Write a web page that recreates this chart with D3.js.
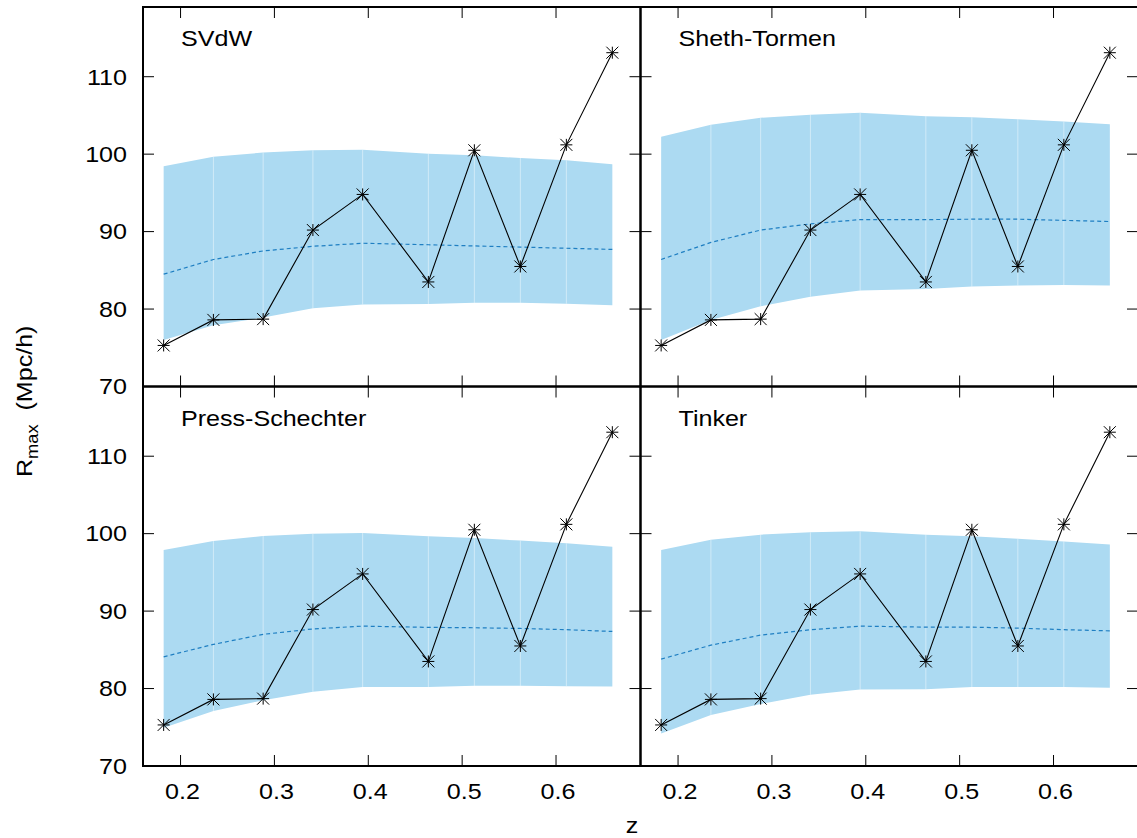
<!DOCTYPE html>
<html>
<head>
<meta charset="utf-8">
<script src="https://cdn.jsdelivr.net/npm/d3@7"></script>
<style>
  body { margin: 0; background: #fff; }
  svg { display: block; font-family: "Liberation Sans", Arial, Helvetica, sans-serif; }
</style>
</head>
<body>
<div id="chart"></div>
<script>
const width = 1137;
const height = 838;

// redshift bins and measured R_max (same in every panel)
const zBins = [0.182, 0.235, 0.288, 0.341, 0.394, 0.464, 0.513, 0.562, 0.611, 0.660];
const rObs = [75.3, 78.6, 78.7, 90.2, 94.8, 83.5, 100.5, 85.5, 101.2, 113.1];

// model predictions: lower, median, upper
const models = ['SVdW', 'Sheth-Tormen', 'Press-Schechter', 'Tinker'];
const svdwLow  = [76.0, 77.9, 78.9, 80.1, 80.6, 80.65, 80.8, 80.8, 80.7, 80.5];
const svdwMid  = [84.5, 86.4, 87.5, 88.1, 88.5, 88.3, 88.15, 88.0, 87.85, 87.7];
const svdwHigh = [98.45, 99.66, 100.2, 100.5, 100.57, 100.05, 99.87, 99.5, 99.2, 98.7];
const stLow  = [76.0, 78.6, 80.35, 81.6, 82.4, 82.6, 82.9, 83.05, 83.1, 83.05];
const stMid  = [86.4, 88.6, 90.2, 91.0, 91.55, 91.55, 91.6, 91.6, 91.45, 91.3];
const stHigh = [102.25, 103.8, 104.7, 105.1, 105.35, 104.9, 104.75, 104.5, 104.2, 103.85];
const psLow  = [74.95, 77.1, 78.5, 79.6, 80.2, 80.2, 80.35, 80.35, 80.3, 80.25];
const psMid  = [84.1, 85.7, 87.0, 87.7, 88.06, 87.9, 87.85, 87.76, 87.6, 87.37];
const psHigh = [97.9, 99.06, 99.7, 100.0, 100.1, 99.65, 99.44, 99.1, 98.75, 98.3];
const tkLow  = [74.2, 76.6, 78.0, 79.2, 79.87, 79.9, 80.2, 80.2, 80.2, 80.1];
const tkMid  = [83.8, 85.6, 86.9, 87.6, 88.06, 87.93, 87.93, 87.8, 87.6, 87.45];
const tkHigh = [97.9, 99.2, 99.87, 100.17, 100.3, 99.87, 99.65, 99.35, 99.0, 98.6];

const bands = [
  [svdwLow, svdwMid, svdwHigh],
  [stLow, stMid, stHigh],
  [psLow, psMid, psHigh],
  [tkLow, tkMid, tkHigh],
];

const xTicks = [0.2, 0.3, 0.4, 0.5, 0.6];
const yTicks = [70, 80, 90, 100, 110];

const marginLeft = 143, marginTop = 7;
const pw = 497.5, ph = 379.5;
const stretch = 1.14; // glyphs in the original are wider than Arial

const svg = d3.select('#chart')
  .append('svg')
  .attr('width', width)
  .attr('height', height);

const xScale = d3.scaleLinear().domain([0.16, 0.69]).range([0, pw]);
const yScale = d3.scaleLinear().domain([70, 119]).range([ph, 0]);

function label(g, x, y, text, anchor, size) {
  return g.append('text')
    .attr('transform', `translate(${x},${y}) scale(${stretch},1)`)
    .attr('text-anchor', anchor)
    .attr('font-size', size)
    .attr('fill', '#000')
    .text(text);
}

models.forEach((name, i) => {
  const col = i % 2, row = Math.floor(i / 2);
  const g = svg.append('g')
    .attr('transform', `translate(${marginLeft + col * pw}, ${marginTop + row * ph})`);
  const [low, mid, high] = bands[i];
  const pts = zBins.map((z, k) => ({ z, r: rObs[k], lo: low[k], md: mid[k], hi: high[k] }));

  // band
  const area = d3.area()
    .x(d => xScale(d.z))
    .y0(d => yScale(d.lo))
    .y1(d => yScale(d.hi));
  g.append('path')
    .datum(pts)
    .attr('d', area)
    .attr('fill', '#acdaf2');

  // faint seams between segments
  g.selectAll('line.seam')
    .data(pts.slice(1, -1))
    .join('line')
    .attr('class', 'seam')
    .attr('x1', d => xScale(d.z)).attr('x2', d => xScale(d.z))
    .attr('y1', d => yScale(d.lo)).attr('y2', d => yScale(d.hi))
    .attr('stroke', '#ffffff')
    .attr('stroke-opacity', 0.45)
    .attr('stroke-width', 1);

  // median prediction
  g.append('path')
    .datum(pts)
    .attr('d', d3.line().x(d => xScale(d.z)).y(d => yScale(d.md)))
    .attr('fill', 'none')
    .attr('stroke', '#1f7fc2')
    .attr('stroke-width', 1.2)
    .attr('stroke-dasharray', '4,3');

  // measurements
  g.append('path')
    .datum(pts)
    .attr('d', d3.line().x(d => xScale(d.z)).y(d => yScale(d.r)))
    .attr('fill', 'none')
    .attr('stroke', '#000')
    .attr('stroke-width', 1.1);

  const s = 6;
  const star = `M0,${-s}L0,${s}M${-s},${-s}L${s},${s}M${-s},${s}L${s},${-s}M${-s},0L${s},0`;
  g.selectAll('path.star')
    .data(pts)
    .join('path')
    .attr('class', 'star')
    .attr('transform', d => `translate(${xScale(d.z)},${yScale(d.r)})`)
    .attr('d', star)
    .attr('stroke', '#000')
    .attr('stroke-width', 1)
    .attr('fill', 'none');

  // inward ticks on all four sides
  const tl = 11;
  const ticks = g.append('g').attr('stroke', '#000').attr('stroke-width', 1);
  xTicks.forEach(t => {
    const x = xScale(t);
    ticks.append('line').attr('x1', x).attr('x2', x).attr('y1', ph).attr('y2', ph - tl);
    ticks.append('line').attr('x1', x).attr('x2', x).attr('y1', 0).attr('y2', tl);
  });
  yTicks.slice(1).forEach(t => {
    const y = yScale(t);
    ticks.append('line').attr('x1', 0).attr('x2', tl).attr('y1', y).attr('y2', y);
    ticks.append('line').attr('x1', pw).attr('x2', pw - tl).attr('y1', y).attr('y2', y);
  });

  // frame
  g.append('rect')
    .attr('width', pw).attr('height', ph)
    .attr('fill', 'none')
    .attr('stroke', '#000')
    .attr('stroke-width', 2);

  label(g, 38, 39, name, 'start', 22);

  if (col === 0) {
    yTicks.forEach(t => label(g, -16, yScale(t) + 7.8, t, 'end', 22));
  }
  if (row === 1) {
    xTicks.forEach(t => label(g, xScale(t) + 2, ph + 33, d3.format('.1f')(t), 'middle', 22));
  }
});

// axis titles
label(svg, 632, 833, 'z', 'middle', 22);

const yl = svg.append('text')
  .attr('transform', `translate(31.5, 477) rotate(-90) scale(${stretch},1)`)
  .attr('font-size', 22)
  .attr('fill', '#000');
yl.append('tspan').text('R');
yl.append('tspan').attr('font-size', 16).attr('dy', 6).text('max');
yl.append('tspan').attr('dy', -6).text('\u00a0\u00a0(Mpc/h)');
</script>
</body>
</html>
